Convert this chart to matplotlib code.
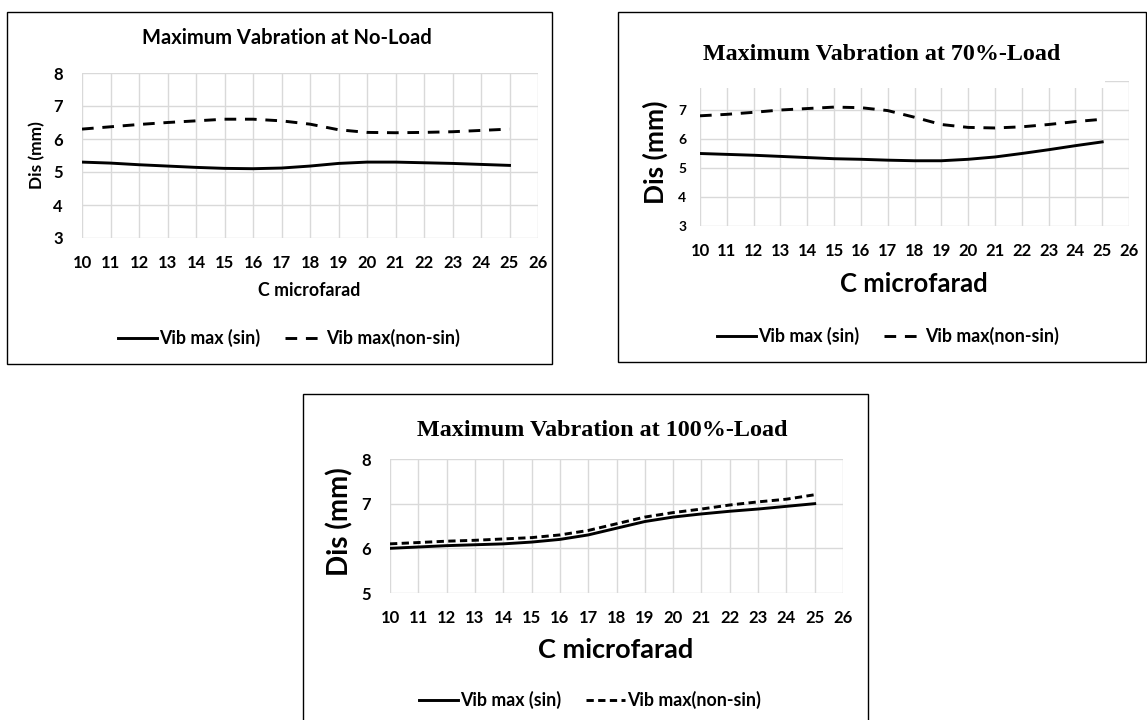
import matplotlib
matplotlib.use("Agg")
import matplotlib.pyplot as plt
from matplotlib.patches import Rectangle

# ---- data ----
cap = [10, 11, 12, 13, 14, 15, 16, 17, 18, 19, 20, 21, 22, 23, 24, 25]
x_ticks = list(range(10, 27))

noload_sin    = [5.30, 5.27, 5.22, 5.18, 5.14, 5.11, 5.10, 5.12, 5.18, 5.26, 5.30, 5.30, 5.28, 5.26, 5.23, 5.20]
noload_nonsin = [6.30, 6.37, 6.44, 6.50, 6.55, 6.60, 6.60, 6.55, 6.45, 6.28, 6.20, 6.19, 6.20, 6.22, 6.26, 6.30]

load70_sin    = [5.50, 5.47, 5.44, 5.40, 5.36, 5.32, 5.30, 5.27, 5.25, 5.25, 5.30, 5.38, 5.50, 5.63, 5.77, 5.90]
load70_nonsin = [6.80, 6.85, 6.92, 7.00, 7.05, 7.10, 7.08, 6.98, 6.75, 6.50, 6.40, 6.38, 6.42, 6.50, 6.60, 6.68]

load100_sin    = [6.00, 6.03, 6.06, 6.08, 6.10, 6.14, 6.20, 6.30, 6.45, 6.60, 6.70, 6.77, 6.83, 6.88, 6.94, 7.00]
load100_nonsin = [6.10, 6.13, 6.16, 6.18, 6.21, 6.24, 6.30, 6.40, 6.55, 6.70, 6.80, 6.88, 6.97, 7.04, 7.10, 7.20]

titles = ["Maximum Vabration at No-Load", "Maximum Vabration at 70%-Load",
          "Maximum Vabration at 100%-Load"]
series_names = ["Vib max (sin)", "Vib max(non-sin)"]
x_label = "C microfarad"
y_label = "Dis (mm)"

W, H = 1147, 720
fig = plt.figure(figsize=(W / 100, H / 100), dpi=100)
SANS = "Lato"
SERIF = "Liberation Serif"


def fx(px):
    return px / W


def fy(py):
    return 1 - py / H


def frame(x0, y0, x1, y1):
    fig.patches.append(Rectangle((fx(x0), fy(y1)), fx(x1 - x0), (y1 - y0) / H,
                                 transform=fig.transFigure, fill=False,
                                 edgecolor="black", linewidth=1.0))


def make_axes(l, r, t, b):
    return fig.add_axes([fx(l), fy(b), fx(r - l), (b - t) / H])


def style(ax, ylo, yhi, yticks, yticklabels, xs, ys):
    ax.set_xlim(10, 26)
    ax.set_ylim(ylo, yhi)
    ax.set_xticks(x_ticks)
    ax.set_yticks(yticks)
    ax.set_yticklabels(yticklabels)
    for s in ax.spines.values():
        s.set_visible(False)
    ax.grid(True, color="#d9d9d9", linewidth=1.0)
    ax.set_axisbelow(True)
    ax.tick_params(length=0)
    for lab in ax.get_xticklabels():
        lab.set_fontsize(xs)
        lab.set_fontweight("bold")
        lab.set_fontfamily(SANS)
    for lab in ax.get_yticklabels():
        lab.set_fontsize(ys)
        lab.set_fontweight("bold")
        lab.set_fontfamily(SANS)


def legend(handles, cx, cy, fs, hl):
    fig.legend(handles, series_names, loc="center", bbox_to_anchor=(fx(cx), fy(cy)),
               ncol=2, frameon=False, handlelength=hl, handletextpad=0.1,
               columnspacing=1.4, prop={"family": SANS, "weight": "bold", "size": fs})


LW = 2.1

# ---- Panel 1 ----
frame(7, 12, 552, 364)
ax1 = make_axes(82, 538, 73, 238)
style(ax1, 3, 8, [3, 4, 5, 6, 7, 8], ["3", "4", "5", "6", "7", "8"], 12, 12)
ax1.tick_params(axis="x", pad=12)
ax1.tick_params(axis="y", pad=14)
l1, = ax1.plot(cap, noload_sin, color="black", lw=LW)
l2, = ax1.plot(cap, noload_nonsin, color="black", lw=LW, linestyle=(0, (4, 3)))
fig.text(fx(287), fy(38), titles[0], ha="center", va="center",
         family=SANS, weight="bold", fontsize=14.5)
fig.text(fx(309), fy(291), x_label, ha="center", va="center",
         family=SANS, weight="bold", fontsize=12.8)
fig.text(fx(37), fy(155), y_label, ha="center", va="center", rotation=90,
         family=SANS, weight="bold", fontsize=12.5)
legend([l1, l2], 289, 338, 12.8, 2.2)

# ---- Panel 2 ----
frame(618, 12, 1146, 362)
ax2 = make_axes(700, 1129, 81, 226)
style(ax2, 3, 8, [3, 4, 5, 6, 7, 8], ["3", "4", "5", "6", "7", ""], 12, 10)
ax2.tick_params(axis="x", pad=12)
ax2.tick_params(axis="y", pad=10)
m1, = ax2.plot(cap, load70_sin, color="black", lw=LW)
m2, = ax2.plot(cap, load70_nonsin, color="black", lw=LW, linestyle=(0, (4, 3)))
ax2.add_patch(Rectangle((-0.05, 0.955), (25.1 - 10) / 16 + 0.05, 0.2,
                        transform=ax2.transAxes, facecolor="white",
                        edgecolor="none", zorder=5, clip_on=False))
fig.text(fx(882), fy(54), titles[1], ha="center", va="center",
         family=SERIF, weight="bold", fontsize=17.3)
fig.text(fx(914), fy(284), x_label, ha="center", va="center",
         family=SANS, weight="bold", fontsize=18.5)
fig.text(fx(655), fy(152), y_label, ha="center", va="center", rotation=90,
         family=SANS, weight="bold", fontsize=19)
legend([m1, m2], 888, 336, 12.8, 2.2)

# ---- Panel 3 ----
frame(303, 394, 868, 724)
ax3 = make_axes(390, 843, 459, 593)
style(ax3, 5, 8, [5, 6, 7, 8], ["5", "6", "7", "8"], 12, 12)
ax3.tick_params(axis="x", pad=12)
ax3.tick_params(axis="y", pad=14)
n1, = ax3.plot(cap, load100_sin, color="black", lw=LW)
n2, = ax3.plot(cap, load100_nonsin, color="black", lw=LW, linestyle=(0, (2.5, 1.5)))
fig.text(fx(602), fy(430), titles[2], ha="center", va="center",
         family=SERIF, weight="bold", fontsize=17.4)
fig.text(fx(616), fy(650), x_label, ha="center", va="center",
         family=SANS, weight="bold", fontsize=19.5)
fig.text(fx(340), fy(522), y_label, ha="center", va="center", rotation=90,
         family=SANS, weight="bold", fontsize=20)
legend([n1, n2], 590, 700, 12.8, 2.2)

fig.savefig("out.png", dpi=100, facecolor="white")
